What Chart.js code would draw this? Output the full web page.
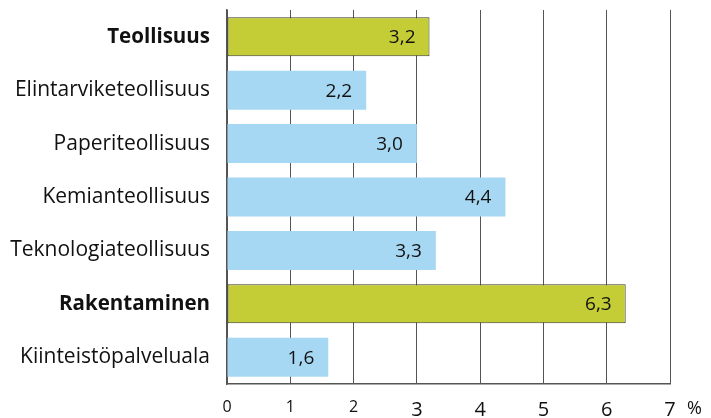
<!DOCTYPE html>
<html>
<head>
<meta charset="utf-8">
<script src="https://cdn.jsdelivr.net/npm/chart.js"></script>
<style>
  html, body { margin: 0; padding: 0; background: #fff; }
  #wrap { width: 711px; height: 418px; }
</style>
</head>
<body>
<div id="wrap"><canvas id="c" width="711" height="418"></canvas></div>
<script>
const categories = [
  "Teollisuus",
  "Elintarviketeollisuus",
  "Paperiteollisuus",
  "Kemianteollisuus",
  "Teknologiateollisuus",
  "Rakentaminen",
  "Kiinteistöpalveluala",
];
const values = [3.2, 2.2, 3.0, 4.4, 3.3, 6.3, 1.6];
const highlighted = [true, false, false, false, false, true, false];
const xTicks = [0, 1, 2, 3, 4, 5, 6, 7];

const FONT = "'Open Sans', sans-serif";
const OLIVE = "#c5cd36";
const BLUE = "#a7d8f3";

const barLabels = {
  id: "barLabels",
  afterDatasetsDraw(chart) {
    const ctx = chart.ctx;
    const meta = chart.getDatasetMeta(0);
    ctx.save();
    ctx.font = "19px " + FONT;
    ctx.fillStyle = "#111";
    ctx.textAlign = "right";
    ctx.textBaseline = "middle";
    meta.data.forEach((bar, i) => {
      const txt = values[i].toFixed(1).replace(".", ",");
      ctx.fillText(txt, bar.x - 14, bar.y + 1);
    });
    // unit after last x tick
    const xs = chart.scales.x;
    ctx.textAlign = "left";
    ctx.font = "18px " + FONT;
    ctx.fillText("%", xs.getPixelForValue(7) + 17, 409);
    ctx.restore();
  },
};

new Chart(document.getElementById("c"), {
  type: "bar",
  data: {
    labels: categories,
    datasets: [
      {
        data: values,
        backgroundColor: highlighted.map((h) => (h ? OLIVE : BLUE)),
        borderColor: highlighted.map((h) => (h ? "#3a3a2a" : BLUE)),
        borderWidth: highlighted.map((h) => (h ? 1 : 0)),
        borderSkipped: false,
        categoryPercentage: 1,
        barPercentage: 0.73,
      },
    ],
  },
  plugins: [barLabels],
  options: {
    indexAxis: "y",
    responsive: false,
    animation: false,
    layout: { padding: { top: 10, right: 41, left: 0, bottom: 0 } },
    plugins: {
      legend: { display: false },
      tooltip: { enabled: false },
    },
    scales: {
      x: {
        min: 0,
        max: 7,
        afterBuildTicks: (s) => {
          s.ticks = xTicks.map((v) => ({ value: v }));
        },
        afterFit: (s) => {
          s.height = 34;
          s.paddingLeft = 0;
          s.paddingRight = 0;
        },
        grid: { color: "#555", lineWidth: 1, drawTicks: false },
        border: { color: "#555", width: 1.5 },
        ticks: {
          color: "#111",
          padding: 14,
          font: (c) => ({
            family: FONT,
            size: c.tick && c.tick.value >= 3 ? 20 : 16,
          }),
        },
      },
      y: {
        afterFit: (s) => {
          s.width = 227;
          s.paddingTop = 0;
          s.paddingBottom = 0;
        },
        grid: { display: false, drawTicks: false },
        border: { color: "#555", width: 1.5 },
        ticks: {
          color: "#111",
          padding: 17,
          font: (c) => ({
            family: FONT,
            size: highlighted[c.index] ? 20.5 : 21,
            weight: highlighted[c.index] ? "bold" : "normal",
          }),
        },
      },
    },
  },
});
</script>
</body>
</html>
